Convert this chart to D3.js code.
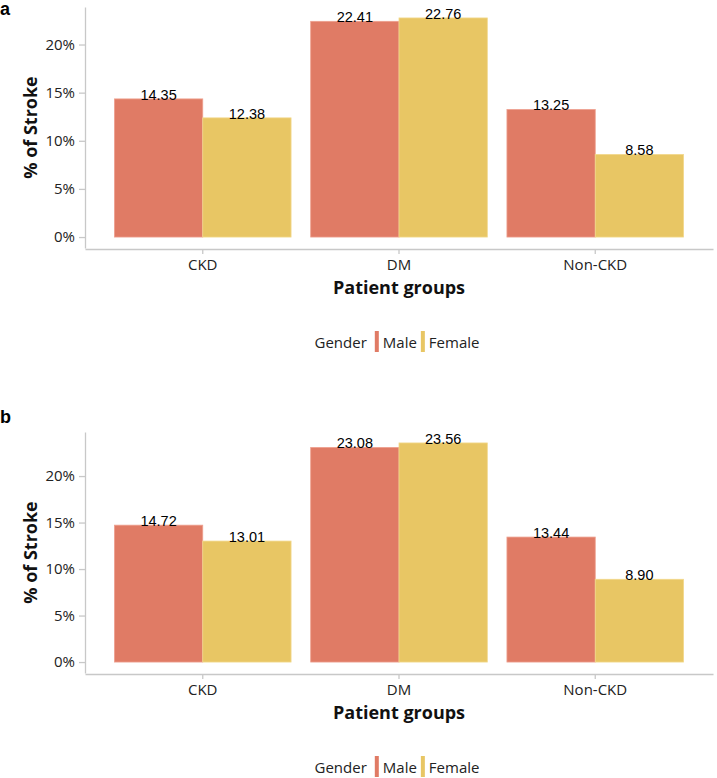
<!DOCTYPE html>
<html>
<head>
<meta charset="utf-8">
<script src="https://cdn.jsdelivr.net/npm/d3@7"></script>
<style>
    body { margin: 0; background: #fff; }
    .axis path, .axis line { stroke: #c8c8c8; stroke-width: 1.3; }
    .axis text { font-family: "Open Sans", sans-serif; font-size: 15px; fill: #222; }
</style>
</head>
<body>
<div id="chart"></div>
<script>
// data
let groups = ["CKD", "DM", "Non-CKD"];
let genders = ["Male", "Female"];
let maleA = [14.35, 22.41, 13.25];
let femaleA = [12.38, 22.76, 8.58];
let maleB = [14.72, 23.08, 13.44];
let femaleB = [13.01, 23.56, 8.90];
let yTicks = [0, 5, 10, 15, 20];
let panelNames = ["a", "b"];

let width = 717;
let height = 778;
let color = d3.scaleOrdinal().domain(genders).range(["#e07b65", "#e8c664"]);
let edge = d3.scaleOrdinal().domain(genders).range(["#eea08f", "#f2d88c"]);

let svg = d3.select("#chart").append("svg")
    .attr("width", width)
    .attr("height", height);

function panel(male, female, name, top, labelY) {
    let margin = {left: 85, right: 4};
    let plotH = 241;
    let bottom = top + plotH;
    let rows = groups.map((g, i) => ({group: g, Male: male[i], Female: female[i]}));
    let maxV = d3.max(rows, d => Math.max(d.Male, d.Female));

    let x = d3.scaleBand()
        .domain(groups)
        .range([margin.left, width - margin.right])
        .paddingInner(0.1)
        .paddingOuter(0.15);
    let xIn = d3.scaleBand()
        .domain(genders)
        .range([0, x.bandwidth()]);
    // ggplot style 5% expansion
    let y = d3.scaleLinear()
        .domain([-0.05 * maxV, 1.05 * maxV])
        .range([bottom, top]);

    let g = svg.append("g");

    g.append("g")
        .attr("class", "y-axis axis")
        .attr("transform", "translate(" + margin.left + ",0)")
        .call(d3.axisLeft(y).tickValues(yTicks).tickFormat(d => d + "%")
            .tickSize(6).tickSizeOuter(0).tickPadding(4));

    g.append("g")
        .attr("class", "x-axis axis")
        .attr("transform", "translate(0," + (bottom + 1) + ")")
        .call(d3.axisBottom(x).tickSize(5).tickSizeOuter(0).tickPadding(5));

    g.selectAll(".axis .domain").attr("stroke", "#c8c8c8");
    g.selectAll(".axis .tick line").attr("stroke", "#b0b0b0").attr("stroke-width", 1);

    let bars = g.selectAll(".grp")
        .data(rows)
        .enter().append("g")
        .attr("class", "grp")
        .attr("transform", d => "translate(" + x(d.group) + ",0)");

    bars.selectAll("rect")
        .data(d => genders.map(k => ({key: k, value: d[k]})))
        .enter().append("rect")
        .attr("x", d => xIn(d.key))
        .attr("width", xIn.bandwidth())
        .attr("y", d => y(d.value))
        .attr("height", d => y(0) - y(d.value))
        .style("fill", d => color(d.key))
        .style("stroke", d => edge(d.key))
        .style("stroke-width", 0.8);

    bars.selectAll(".val")
        .data(d => genders.map(k => ({key: k, value: d[k]})))
        .enter().append("text")
        .attr("class", "val")
        .attr("x", d => xIn(d.key) + xIn.bandwidth() / 2)
        .attr("y", d => y(d.value) + 1)
        .attr("text-anchor", "middle")
        .style("font-family", "'Liberation Sans', Arial, sans-serif")
        .style("font-size", "14.5px")
        .style("fill", "#000")
        .text(d => d.value.toFixed(2));

    let midX = (margin.left + width - margin.right) / 2;

    g.append("text")
        .attr("transform", "translate(37," + (top + plotH / 2) + ") rotate(-90)")
        .attr("text-anchor", "middle")
        .style("font-family", "'Open Sans', sans-serif")
        .style("font-weight", "bold")
        .style("font-size", "18px")
        .style("fill", "#111")
        .text("% of Stroke");

    g.append("text")
        .attr("x", midX)
        .attr("y", bottom + 46)
        .attr("text-anchor", "middle")
        .style("font-family", "'Open Sans', sans-serif")
        .style("font-weight", "bold")
        .style("font-size", "18px")
        .style("fill", "#111")
        .text("Patient groups");

    g.append("text")
        .attr("x", 0)
        .attr("y", labelY)
        .style("font-family", "'Liberation Sans', Arial, sans-serif")
        .style("font-weight", "bold")
        .style("font-size", "18px")
        .text(name);

    // legend, centred under the plot
    let legend = g.append("g");
    let ly = bottom + 100;
    let lx = 0;
    let title = legend.append("text")
        .attr("x", lx).attr("y", ly)
        .style("font-family", "'Open Sans', sans-serif")
        .style("font-size", "15px")
        .style("fill", "#222")
        .text("Gender");
    lx += title.node().getComputedTextLength() + 8;
    genders.forEach(k => {
        legend.append("rect")
            .attr("x", lx).attr("y", ly - 17)
            .attr("width", 4).attr("height", 21)
            .style("fill", color(k));
        lx += 8;
        let t = legend.append("text")
            .attr("x", lx).attr("y", ly)
            .style("font-family", "'Open Sans', sans-serif")
            .style("font-size", "15px")
            .style("fill", "#222")
            .text(k);
        lx += t.node().getComputedTextLength() + 4;
    });
    legend.attr("transform", "translate(" + (midX - lx / 2) + ",0)");
}

panel(maleA, femaleA, panelNames[0], 7, 15);
panel(maleB, femaleB, panelNames[1], 432, 423);
</script>
</body>
</html>
